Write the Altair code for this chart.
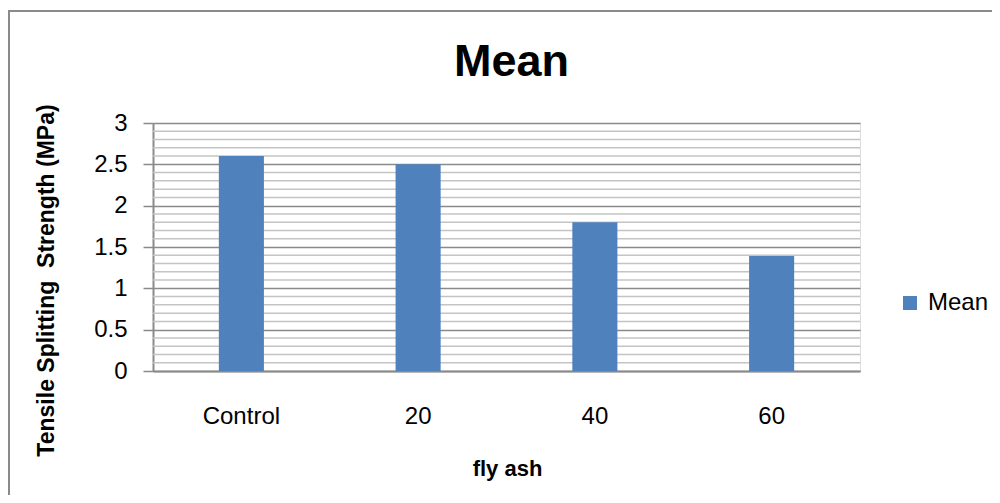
import altair as alt
import pandas as pd

categories = ["Control", "20", "40", "60"]
values = [2.6, 2.5, 1.8, 1.39]
series_name = "Mean"
major_ticks = [0, 0.5, 1, 1.5, 2, 2.5, 3]
minor_ticks = [0.1, 0.2, 0.3, 0.4, 0.6, 0.7, 0.8, 0.9, 1.1, 1.2, 1.3, 1.4,
               1.6, 1.7, 1.8, 1.9, 2.1, 2.2, 2.3, 2.4, 2.6, 2.7, 2.8, 2.9]

df = pd.DataFrame({"cat": categories, "val": values, "series": [series_name] * len(categories)})
minor_df = pd.DataFrame({"v": minor_ticks})

FONT = "Liberation Sans"
GRAY = "#8a8a8a"

yscale = alt.Scale(domain=[0, 3], nice=False, zero=True)
yaxis = alt.Axis(title="Tensile Splitting\u00a0 Strength (MPa)", values=major_ticks,
                 format="~g", grid=True, gridColor=GRAY, gridWidth=1.5,
                 tickSize=10, tickColor=GRAY, tickWidth=1.5,
                 domainColor=GRAY, domainWidth=2,
                 labelFontSize=24, labelFont=FONT, labelColor="#000",
                 labelPadding=16,
                 titleFont=FONT, titleFontSize=23, titleFontWeight="bold",
                 titleColor="#000", titleX=-107, titleY=157,
                 titleAngle=270, titleAlign="center", titleBaseline="middle")

minor = alt.Chart(minor_df).mark_rule(color="#c4c4c4", strokeWidth=1.5).encode(
    y=alt.Y("v:Q", scale=yscale, axis=yaxis)
)

bars = alt.Chart(df).mark_bar(color="#4F81BD").encode(
    x=alt.X("cat:N", sort=categories,
            scale=alt.Scale(paddingInner=0.745, paddingOuter=0.3725),
            axis=alt.Axis(title="fly ash", labelAngle=0, ticks=False,
                          labelFontSize=24, labelFont=FONT, labelColor="#000",
                          labelPadding=33, domainColor=GRAY, domainWidth=2,
                          titleFont=FONT, titleFontSize=22, titleFontWeight="bold",
                          titleColor="#000", titleX=354, titleY=104,
                          titleBaseline="alphabetic", titleAlign="center")),
    y=alt.Y("val:Q", scale=yscale, axis=yaxis),
    color=alt.Color("series:N", scale=alt.Scale(range=["#4F81BD"]),
                    legend=alt.Legend(title=None, orient="none", legendX=745, legendY=168,
                                      symbolType="square", symbolSize=196,
                                      symbolStrokeWidth=0, labelFontSize=24,
                                      labelFont=FONT, labelColor="#000",
                                      labelOffset=6, padding=0)),
)

border_top = alt.Chart(alt.Data(values=[{}])).mark_rule(color=GRAY, strokeWidth=2).encode(
    x=alt.value(-144), x2=alt.value(900), y=alt.value(-112)
)
border_left = alt.Chart(alt.Data(values=[{}])).mark_rule(color=GRAY, strokeWidth=2).encode(
    x=alt.value(-144), y=alt.value(-113), y2=alt.value(400)
)

chart = alt.layer(minor, bars, border_top, border_left).properties(
    width=707, height=248,
    title=alt.Title("Mean", fontSize=45, font=FONT, fontWeight="bold", color="#000",
                    anchor="middle", dx=5, offset=0, baseline="alphabetic", dy=112),
    padding={"left": 145, "top": 115, "right": 132, "bottom": 124},
    autosize=alt.AutoSizeParams(type="none"),
).configure_view(stroke=None).configure(background="white")

chart.save("out.html", embed_options={"renderer": "svg", "actions": False})
